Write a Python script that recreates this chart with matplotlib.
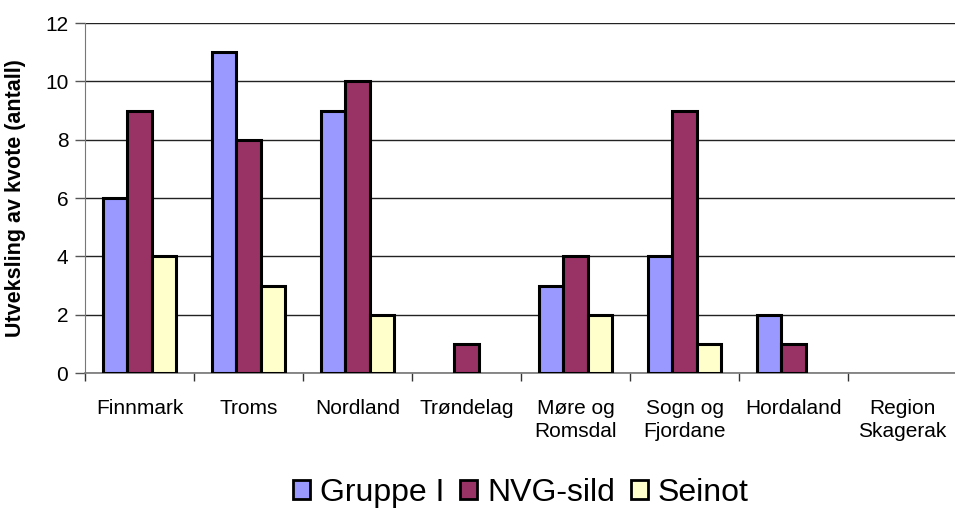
import matplotlib
matplotlib.use("Agg")
import matplotlib.pyplot as plt
import numpy as np

categories = ["Finnmark", "Troms", "Nordland", "Trøndelag", "Møre og\nRomsdal",
              "Sogn og\nFjordane", "Hordaland", "Region\nSkagerak"]
gruppe_i = [6, 11, 9, 0, 3, 4, 2, 0]
nvg_sild = [9, 8, 10, 1, 4, 9, 1, 0]
seinot = [4, 3, 2, 0, 2, 1, 0, 0]
series_names = ["Gruppe I", "NVG-sild", "Seinot"]
colors = ["#9999FF", "#993366", "#FFFFCC"]
yticks = [0, 2, 4, 6, 8, 10, 12]

plt.rcParams['font.family'] = ['Liberation Sans', 'DejaVu Sans']

W, H = 955, 511
fig = plt.figure(figsize=(W / 100, H / 100), dpi=100)
left, right, top, bottom = 85, 957, 23, 373
ax = fig.add_axes([left / W, 1 - bottom / H, (right - left) / W, (bottom - top) / H])

x = np.arange(len(categories))
bw = 0.225
for i, (vals, name, c) in enumerate(zip([gruppe_i, nvg_sild, seinot], series_names, colors)):
    vals = np.asarray(vals, dtype=float)
    lws = np.where(vals > 0, 2.2, 0.0)
    ax.bar(x + (i - 1) * bw, vals, width=bw, color=c, edgecolor="black",
           linewidth=lws, label=name, zorder=3)

ax.set_xlim(-0.5, len(categories) - 0.5)
ax.set_ylim(0, 12)
ax.set_yticks(yticks)
ax.tick_params(axis="y", labelsize=15, length=7, width=1, color="#555555", pad=5)
ax.yaxis.grid(True, color="#222222", linewidth=1, zorder=0)
ax.set_axisbelow(True)

ax.set_xticks(np.arange(len(categories) + 1) - 0.5, minor=False)
ax.set_xticklabels([])
ax.set_xticks(x, minor=True)
ax.set_xticklabels(categories, minor=True, fontsize=15, linespacing=1.25)
ax.tick_params(axis="x", which="major", length=6, width=1, color="#333333")
ax.tick_params(axis="x", which="minor", length=0, pad=19)

for s in ["top", "right"]:
    ax.spines[s].set_visible(False)
ax.spines["left"].set_color("#777777")
ax.spines["bottom"].set_color("#777777")
ax.spines["bottom"].set_linewidth(1.2)

ax.set_ylabel("Utveksling av kvote (antall)", fontsize=15.5, fontweight="bold", labelpad=14)

leg = fig.legend(loc="center", bbox_to_anchor=(521 / W, 1 - 493 / H), ncol=3, frameon=False,
                 fontsize=23, handlelength=0.52, handleheight=0.52, handletextpad=0.32,
                 columnspacing=0.5, borderpad=0, borderaxespad=0)
for p in leg.get_patches():
    p.set_linewidth(2)
    p.set_edgecolor("black")

fig.savefig("out.png", dpi=100)
